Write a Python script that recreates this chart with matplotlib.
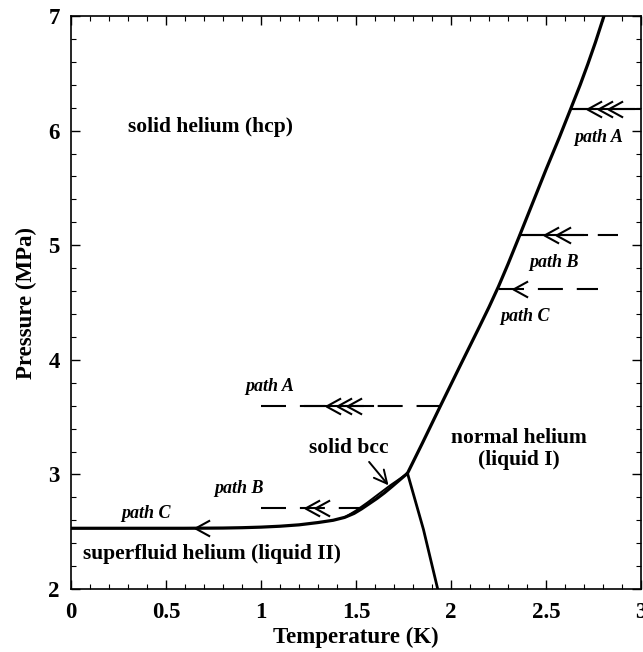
import matplotlib
matplotlib.use("Agg")
import matplotlib.pyplot as plt
from matplotlib.path import Path
from matplotlib.ticker import MultipleLocator

plt.rcParams['font.family'] = ['Liberation Serif', 'DejaVu Serif']
plt.rcParams['font.weight'] = 'bold'
plt.rcParams['lines.scale_dashes'] = False

# melting curve of 4He (solid vs liquid), T in K, P in MPa
melt_T = [0.0, 0.6, 0.8, 0.9, 1.0, 1.1, 1.2, 1.3, 1.38, 1.44, 1.49, 1.53, 1.57,
          1.61, 1.65, 1.69, 1.73, 1.771, 1.85, 1.945, 2.05, 2.15, 2.20, 2.25, 2.30,
          2.36, 2.43, 2.5, 2.57, 2.63, 2.68, 2.72, 2.76, 2.805]
melt_P = [2.53, 2.53, 2.532, 2.535, 2.54, 2.548, 2.56, 2.58, 2.60, 2.625, 2.66, 2.70, 2.745,
          2.79, 2.84, 2.895, 2.952, 3.01, 3.275, 3.60, 3.955, 4.29, 4.46, 4.64, 4.835,
          5.08, 5.37, 5.66, 5.94, 6.19, 6.40, 6.58, 6.77, 7.0]

# upper edge of the thin bcc pocket
bcc_T = [1.45, 1.50, 1.56, 1.62, 1.68, 1.73, 1.771]
bcc_P = [2.635, 2.685, 2.755, 2.83, 2.905, 2.962, 3.01]

# lambda line (superfluid / normal liquid)
lam_T = [1.771, 1.855, 1.93]
lam_P = [3.01, 2.52, 2.0]

# cooling paths: pressure, start T, end T
paths = {
    'A_hi': (6.19, 2.63, 3.0),
    'B_hi': (5.09, 2.361, 2.88),
    'C_hi': (4.62, 2.251, 2.773),
    'A_lo': (3.60, 1.0, 1.945),
    'B_lo': (2.71, 1.0, 1.53),
}
# solid pieces drawn over the dashed paths
solid_pieces = {
    'A_hi': (2.63, 3.0),
    'B_hi': (2.361, 2.715),
    'A_lo': (1.234, 1.592),
}
# arrow tips along each path
arrow_T = {
    'A_hi': [2.715, 2.773, 2.826],
    'B_hi': [2.488, 2.551],
    'C_hi': [2.325],
    'A_lo': [1.344, 1.402, 1.455],
    'B_lo': [1.234, 1.286],
    'C_lo': [0.654],
}
arrow_P = {'C_lo': 2.53}

fig = plt.figure(figsize=(6.43, 6.52), dpi=100)
ax = fig.add_axes([0.1104, 0.0966, 0.8865, 0.8788])

ax.plot(melt_T, melt_P, color='black', lw=2.3, solid_joinstyle='round')
ax.plot(bcc_T, bcc_P, color='black', lw=1.4)
ax.plot(lam_T, lam_P, color='black', lw=2.0)

for key, (p, t0, t1) in paths.items():
    ax.plot([t0, t1], [p, p], color='black', lw=1.5, dashes=(18, 10))
for key, (t0, t1) in solid_pieces.items():
    p = paths[key][0]
    ax.plot([t0, t1], [p, p], color='black', lw=1.5)

chevron = Path([(1.0, 0.55), (0.0, 0.0), (1.0, -0.55)],
               [Path.MOVETO, Path.LINETO, Path.LINETO])
for key, ts in arrow_T.items():
    p = arrow_P.get(key, paths.get(key, (None,))[0])
    ax.plot(ts, [p] * len(ts), ls='none', marker=chevron, markersize=21,
            markerfacecolor='none', markeredgecolor='black', markeredgewidth=1.5)

# region labels
ax.text(0.733, 6.03, 'solid helium (hcp)', fontsize=15.5, ha='center', va='center')
ax.text(2.356, 3.22, 'normal helium\n(liquid I)', fontsize=15.5, ha='center', va='center',
        linespacing=1.1)
ax.text(0.743, 2.305, 'superfluid helium (liquid II)', fontsize=15.5, ha='center', va='center')
ax.annotate('solid bcc', xy=(1.671, 2.905), xytext=(1.46, 3.23), fontsize=15.5,
            ha='center', va='center',
            arrowprops=dict(arrowstyle='->,head_length=0.6,head_width=0.3', lw=1.4,
                            color='black', shrinkA=1, shrinkB=0,
                            relpos=(0.72, 0.0)))

path_labels = [
    (2.78, 5.94, 'path A'), (2.54, 4.85, 'path B'), (2.39, 4.38, 'path C'),
    (1.044, 3.77, 'path A'), (0.886, 2.88, 'path B'), (0.395, 2.655, 'path C'),
]
for t, p, s in path_labels:
    ax.text(t, p, s, fontsize=13, style='italic', ha='center', va='center')

ax.set_xlim(0, 3)
ax.set_ylim(2, 7)
ax.xaxis.set_major_locator(MultipleLocator(0.5))
ax.xaxis.set_minor_locator(MultipleLocator(0.1))
ax.yaxis.set_major_locator(MultipleLocator(1))
ax.yaxis.set_minor_locator(MultipleLocator(0.2))
ax.set_xticks([0, 0.5, 1, 1.5, 2, 2.5, 3])
ax.set_xticklabels(['0', '0.5', '1', '1.5', '2', '2.5', '3'])
ax.tick_params(which='both', direction='in', top=True, right=True, labelsize=16.5)
ax.tick_params(which='major', length=6.5, width=1.0)
ax.tick_params(which='minor', length=3.6, width=0.8)
ax.tick_params(axis='x', pad=9)
ax.tick_params(axis='y', pad=8)
for s in ax.spines.values():
    s.set_linewidth(1.2)

ax.set_xlabel('Temperature (K)', fontsize=16.5, fontweight='bold', labelpad=3)
ax.set_ylabel('Pressure (MPa)', fontsize=16.5, fontweight='bold', labelpad=8)

fig.savefig('out.png', dpi=100)
